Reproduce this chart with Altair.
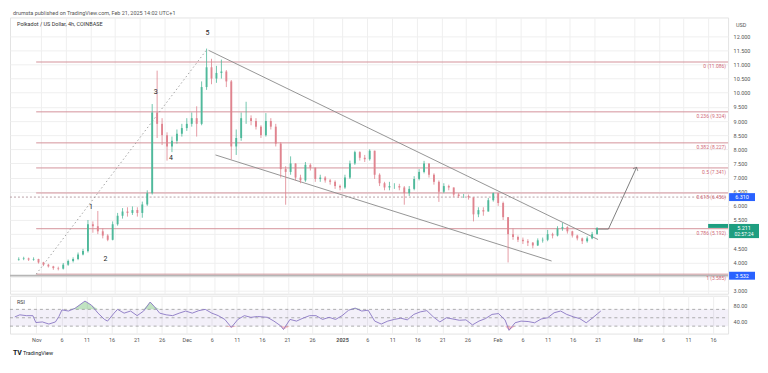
import json
import altair as alt
import pandas as pd

FONT = "Roboto"
W, H1, H2 = 720, 277, 38
X_DOM = [-5.26, 138.0]
P_DOM = [2.894, 12.662]
R_DOM = [12.2, 102.6]
GREEN = "#4fb99b"
RED = "#e0848f"
FIB = "#d4939b"
FIBTXT = "#d06a78"
GREY = "#8a8a8a"

# ---------------- daily OHLC ----------------
first_open = 4.10
close_oct = [4.12, 4.14, 4.10, 4.12, 4.00]
high_oct = [4.18, 4.20, 4.17, 4.18, 4.13]
low_oct = [4.06, 4.08, 4.05, 4.06, 3.96]

close_nov = [3.92, 3.86, 3.80, 3.78, 3.92, 4.05, 4.12, 4.28, 4.40, 5.35,
             5.28, 5.10, 4.95, 4.80, 5.35, 5.65, 5.80, 5.75, 5.85, 5.75,
             6.05, 6.45, 9.30, 8.90, 8.50, 8.10, 8.30, 8.55, 8.75, 8.90]
high_nov = [4.02, 3.95, 3.88, 3.85, 3.98, 4.10, 4.18, 4.35, 4.48, 5.50,
            5.45, 5.82, 5.20, 5.00, 5.45, 5.75, 5.92, 5.95, 5.98, 5.95,
            6.15, 6.55, 9.60, 10.78, 9.10, 8.60, 8.45, 8.70, 8.90, 9.10]
low_nov = [3.87, 3.82, 3.74, 3.72, 3.75, 3.88, 4.00, 4.08, 4.25, 4.35,
           5.05, 5.00, 4.85, 4.75, 4.78, 5.30, 5.55, 5.62, 5.68, 5.62,
           5.58, 6.00, 6.40, 8.40, 8.15, 7.60, 7.90, 8.20, 8.45, 8.65]

close_dec = [9.10, 8.90, 10.20, 10.90, 10.50, 10.70, 10.75, 10.40, 8.10, 8.40,
             9.10, 9.10, 9.00, 8.80, 8.50, 9.00, 8.80, 8.20, 7.30, 7.20,
             7.50, 7.00, 6.90, 7.45, 7.35, 6.95, 7.00, 6.90, 6.85, 6.70, 6.65]
high_dec = [9.30, 9.52, 10.40, 11.56, 11.20, 10.95, 11.17, 10.80, 10.45, 8.70,
            9.30, 9.68, 9.20, 9.10, 8.85, 9.28, 9.10, 8.90, 8.25, 7.40,
            7.75, 7.50, 7.10, 7.55, 7.50, 7.35, 7.10, 7.05, 6.95, 6.90, 6.75]
low_dec = [8.80, 8.45, 8.85, 10.10, 10.30, 10.35, 10.50, 10.20, 7.64, 7.80,
           8.30, 8.90, 8.85, 8.70, 8.40, 8.45, 8.70, 8.10, 7.00, 6.04,
           7.10, 6.90, 6.80, 6.85, 7.25, 6.85, 6.85, 6.82, 6.75, 6.60, 6.55]

close_jan = [7.00, 7.50, 7.90, 7.70, 7.65, 7.95, 7.10, 6.80, 6.65, 6.70,
             6.70, 6.65, 6.45, 6.60, 6.95, 7.20, 7.50, 7.10, 6.85, 6.50,
             6.70, 6.65, 6.40, 6.35, 6.35, 6.30, 5.70, 5.85, 5.80, 6.20, 6.45]
high_jan = [7.10, 7.60, 7.95, 7.93, 7.80, 8.00, 7.95, 7.15, 6.85, 6.85,
            6.80, 6.78, 6.70, 6.70, 7.05, 7.30, 7.59, 7.50, 7.15, 6.90,
            6.80, 6.75, 6.65, 6.45, 6.42, 6.40, 6.30, 5.95, 5.95, 6.28, 6.47]
low_jan = [6.60, 6.95, 7.45, 7.60, 7.55, 7.60, 6.95, 6.70, 6.55, 6.55,
           6.60, 6.55, 6.04, 6.35, 6.55, 6.90, 7.15, 7.00, 6.75, 6.14,
           6.45, 6.55, 6.32, 6.28, 6.28, 6.22, 5.45, 5.60, 5.65, 5.80, 6.15]

close_feb = [6.10, 5.60, 5.00, 4.90, 4.80, 4.75, 4.70, 4.60, 4.78, 4.80,
             5.00, 4.95, 5.20, 5.25, 5.10, 4.95, 4.85, 4.75, 4.85, 5.00, 5.21]
high_feb = [6.45, 6.15, 5.60, 5.20, 4.95, 4.88, 4.82, 4.72, 4.85, 4.88,
            5.15, 5.05, 5.28, 5.40, 5.28, 5.12, 4.98, 4.88, 4.92, 5.08, 5.25]
low_feb = [6.00, 5.50, 4.00, 4.80, 4.72, 4.65, 4.58, 4.50, 4.58, 4.70,
           4.75, 4.85, 4.92, 5.12, 5.02, 4.88, 4.78, 4.65, 4.70, 4.82, 4.98]

close = close_oct + close_nov + close_dec + close_jan + close_feb
high = high_oct + high_nov + high_dec + high_jan + high_feb
low = low_oct + low_nov + low_dec + low_jan + low_feb

# ---------------- RSI (days after Nov 1, value) ----------------
rsi_day = [-4.3, -3.3, -2.0, -0.7, -0.1, 1.2, 2.5, 3.8, 4.5, 5.1,
           6.4, 7.7, 9.7, 11.0, 12.3, 13.6, 14.2, 15.5, 16.2, 17.5,
           18.8, 20.1, 21.4, 22.7, 23.6, 24.6, 25.9, 27.2, 28.5, 29.8,
           31.1, 32.4, 33.7, 35.0, 36.3, 37.6, 38.9, 40.2, 41.5, 42.8,
           44.1, 46.1, 47.4, 48.7, 49.3, 50.6, 51.9, 53.2, 54.5, 55.8,
           57.1, 58.4, 59.7, 61.0, 62.3, 63.6, 64.9, 66.2, 67.5, 68.8,
           70.1, 71.4, 72.7, 74.0, 75.3, 76.6, 77.9, 79.2, 80.5, 81.8,
           83.1, 84.4, 85.7, 87.0, 88.3, 89.6, 90.9, 92.2, 93.5, 94.3,
           95.5, 96.7, 98.1, 99.4, 100.7, 102.0, 103.3, 104.6, 105.8, 107.2,
           108.4, 109.7, 111.0, 112.0, 112.6]
rsi_val = [52, 57, 55, 55, 38.6, 40, 35, 40, 53, 68.7,
           66, 72.5, 89.8, 80, 61, 46, 42, 61, 70, 61,
           66, 55, 66, 87.5, 76, 61, 57, 55, 61, 66,
           61, 67, 70, 61, 55, 46, 27, 46, 55, 51,
           53, 51, 42, 31, 22, 46, 42, 49, 55, 55,
           46, 51, 46, 55, 68, 73, 66, 68, 42, 35,
           42, 46, 49, 45, 58, 64, 67, 52, 40, 50,
           47, 44, 45, 33, 42, 48, 58, 60, 45, 20,
           38, 42, 41, 38, 47, 50, 62, 66, 58, 52,
           48, 38, 50, 60, 66]

# ---------------- drawings ----------------
fib_levels = [11.086, 9.324, 8.227, 7.341, 6.456, 5.192, 3.585]
fib_labels = ["0 (11.086)", "0.236 (9.324)", "0.382 (8.227)", "0.5 (7.341)",
              "0.618 (6.456)", "0.786 (5.192)", "1 (3.585)"]
fib_start_day = -0.97

wave_day = [10.1, 13.06, 23.2, 26.3, 33.7]
wave_price = [5.97, 4.12, 10.01, 7.70, 12.1]
wave_text = ["1", "2", "3", "4", "5"]

upper_day = [33.9, 112.7]
upper_price = [11.50, 4.81]
lower_day = [35.3, 103.3]
lower_price = [7.80, 4.05]
dotted_day = [-0.97, 33.7]
dotted_price = [3.585, 11.56]
arrow_day = [112.2, 114.8, 120.5]
arrow_price = [5.18, 5.18, 7.36]

tick_days = [0, 5, 10, 15, 20, 25, 30, 35, 40, 45, 50, 55, 61, 66, 71, 76, 81, 86,
             92, 97, 102, 107, 112, 120, 125, 130, 135]
tick_labels = ["Nov", "6", "11", "16", "21", "26", "Dec", "6", "11", "16", "21", "26",
               "2025", "6", "11", "16", "21", "26", "Feb", "6", "11", "16", "21",
               "Mar", "6", "11", "16"]
# grid every 0.5; 5.000 and 3.500 are hidden behind the price tags in the reference
grid_ticks = [3.0, 3.5, 4.0, 4.5, 5.0, 5.5, 6.0, 6.5, 7.0, 7.5, 8.0, 8.5, 9.0,
              9.5, 10.0, 10.5, 11.0, 11.5, 12.0]
price_labels = [3.0, 4.0, 4.5, 5.5, 6.0, 6.5, 7.0, 7.5, 8.0, 8.5, 9.0,
                9.5, 10.0, 10.5, 11.0, 11.5, 12.0]
rsi_ticks = [40, 80]

# ---------------- frames ----------------
dates = pd.date_range("2024-10-27", periods=len(close), freq="D")
day = [(d - pd.Timestamp("2024-11-01")).days + 0.5 for d in dates]
opens = [first_open] + close[:-1]
candles = pd.DataFrame({"day": day, "open": opens, "close": close,
                        "high": high, "low": low})
rsi_df = pd.DataFrame({"day": rsi_day, "rsi": rsi_val})
fib_df = pd.DataFrame({"level": fib_levels, "label": fib_labels,
                       "start": [fib_start_day] * len(fib_levels)})

xs = alt.Scale(domain=X_DOM, nice=False, zero=False)
ps = alt.Scale(domain=P_DOM, nice=False, zero=False)
rs = alt.Scale(domain=R_DOM, nice=False, zero=False)

x_top_axis = alt.Axis(values=tick_days, labels=False, ticks=False, domain=False,
                      grid=True, title=None)
label_expr = f"{json.dumps(tick_labels)}[indexof({json.dumps(tick_days)}, datum.value)]"
x_bot_axis = alt.Axis(values=tick_days, labelExpr=label_expr, ticks=False, domain=False,
                      grid=True, title=None, labelFontSize=5.5, labelColor="#555",
                      labelPadding=4, labelFont=FONT,
                      labelFontWeight=alt.expr("datum.value == 61 ? 'bold' : 'normal'"))
p_axis = alt.Axis(orient="right", values=grid_ticks, format=".3f", grid=True,
                  ticks=False, domain=False, labelFontSize=5.5, labelColor="#555",
                  labelPadding=5, title=None, labelFont=FONT,
                  labelExpr=f"indexof({json.dumps(price_labels)}, datum.value) >= 0 ? datum.label : ''")
r_axis = alt.Axis(orient="right", values=rsi_ticks, format=".2f", grid=False,
                  ticks=False, domain=False, labelFontSize=5.5, labelColor="#555",
                  labelPadding=5, title=None, labelFont=FONT)


def XT(f):
    return alt.X(f"{f}:Q", scale=xs, axis=x_top_axis)


def XB(f):
    return alt.X(f"{f}:Q", scale=xs, axis=x_bot_axis)


def YP(f):
    return alt.Y(f"{f}:Q", scale=ps, axis=p_axis)


def YR(f):
    return alt.Y(f"{f}:Q", scale=rs, axis=r_axis)


def seg(days, prices):
    return pd.DataFrame({"day": days, "price": prices, "o": list(range(len(days)))})


# ---------------- price pane ----------------
base_grid = alt.Chart(candles).mark_point(opacity=0).encode(x=XT("day"), y=YP("close"))

fib_rules = alt.Chart(fib_df).mark_rule(color=FIB, strokeWidth=1).encode(
    x=XT("start"), x2=alt.value(W), y=YP("level"))
fib_text = alt.Chart(fib_df).mark_text(align="right", baseline="top", dy=2,
                                       fontSize=5, color=FIBTXT, font=FONT).encode(
    x=alt.value(W - 2), y=YP("level"), text="label:N")

hl_df = pd.DataFrame({"level": [6.310], "label": ["6.310"]})
dash_line = alt.Chart(hl_df).mark_rule(color="#b9a0a6", strokeDash=[2, 2], strokeWidth=1).encode(
    x=alt.value(0), x2=alt.value(W), y=YP("level"))
low_df = pd.DataFrame({"level": [3.532], "label": ["3.532"]})
low_line = alt.Chart(low_df).mark_rule(color="#b5b5b5", strokeWidth=1.6).encode(
    x=alt.value(0), x2=alt.value(W), y=YP("level"))

color = alt.condition("datum.close >= datum.open", alt.value(GREEN), alt.value(RED))
wicks = alt.Chart(candles).mark_rule(strokeWidth=0.8).encode(
    x=XT("day"), y=YP("low"), y2="high:Q", color=color)
bodies = alt.Chart(candles).mark_bar(size=1.9).encode(
    x=XT("day"), y=YP("open"), y2="close:Q", color=color)

upper = alt.Chart(seg(upper_day, upper_price)).mark_line(color=GREY, strokeWidth=0.9).encode(
    x=XT("day"), y=YP("price"), order="o:Q")
lower = alt.Chart(seg(lower_day, lower_price)).mark_line(color=GREY, strokeWidth=0.9).encode(
    x=XT("day"), y=YP("price"), order="o:Q")
dotted = alt.Chart(seg(dotted_day, dotted_price)).mark_line(
    color="#9a9a9a", strokeWidth=0.9, strokeDash=[1.5, 2.5]).encode(
    x=XT("day"), y=YP("price"), order="o:Q")
arrow = alt.Chart(seg(arrow_day, arrow_price)).mark_line(color="#707070", strokeWidth=0.9).encode(
    x=XT("day"), y=YP("price"), order="o:Q")
head_df = pd.DataFrame({"day": [arrow_day[-1]], "price": [arrow_price[-1]]})
head = alt.Chart(head_df).mark_point(shape="M -1 1 L 0 0 L 1 1", filled=False, size=30,
                                     color="#707070", strokeWidth=0.9, angle=25).encode(
    x=XT("day"), y=YP("price"))

wave_df = pd.DataFrame({"day": wave_day, "price": wave_price, "t": wave_text})
waves = alt.Chart(wave_df).mark_text(fontSize=7, color="#222", font=FONT).encode(
    x=XT("day"), y=YP("price"), text="t:N")

hdr = pd.DataFrame({"t": ["drumsta published on TradingView.com, Feb 21, 2025 14:02 UTC+1"]})
header = alt.Chart(hdr).mark_text(align="left", fontSize=5.5, color="#555", font=FONT).encode(
    x=alt.value(3), y=alt.value(-4), text="t:N")
sym = pd.DataFrame({"t": ["Polkadot / US Dollar, 4h, COINBASE"]})
symbol = alt.Chart(sym).mark_text(align="left", fontSize=5.5, color="#333", font=FONT).encode(
    x=alt.value(7), y=alt.value(6.5), text="t:N")
usd = alt.Chart(pd.DataFrame({"t": ["USD"]})).mark_text(align="left", fontSize=5.5,
                                                        color="#555", font=FONT).encode(
    x=alt.value(W + 8), y=alt.value(7.5), text="t:N")

# price tags on the scale
tags = pd.DataFrame({
    "top": [6.45, 3.67], "bot": [6.17, 3.39], "mid": [6.310, 3.532], "t": ["6.310", "3.532"]})
tag_box = alt.Chart(tags).mark_rect(color="#2962ff").encode(
    x=alt.value(W + 1), x2=alt.value(W + 27), y=YP("top"), y2="bot:Q")
tag_txt = alt.Chart(tags).mark_text(color="white", fontSize=5.5, font=FONT).encode(
    x=alt.value(W + 14), y=YP("mid"), text="t:N")

cur = pd.DataFrame({"top": [5.36], "bot": [4.86], "a": [5.22], "b": [4.99],
                    "ta": ["5.211"], "tb": ["02:57:24"], "name": ["DOTUSD"]})
cur_box = alt.Chart(cur).mark_rect(color="#1e9e80").encode(
    x=alt.value(W + 1), x2=alt.value(W + 31), y=YP("top"), y2="bot:Q")
cur_a = alt.Chart(cur).mark_text(color="white", fontSize=5.5, font=FONT).encode(
    x=alt.value(W + 16), y=YP("a"), text="ta:N")
cur_b = alt.Chart(cur).mark_text(color="white", fontSize=5, font=FONT).encode(
    x=alt.value(W + 16), y=YP("b"), text="tb:N")
name_box = alt.Chart(cur).mark_rect(color="#1e9e80").encode(
    x=alt.value(W - 20), x2=alt.value(W), y=YP("top"), y2="a:Q")
name_txt = alt.Chart(cur).mark_text(color="white", fontSize=4.8, font=FONT, dy=-2).encode(
    x=alt.value(W - 10), y=YP("top"), text="name:N")

price_pane = alt.layer(
    base_grid, fib_rules, dash_line, low_line, fib_text, dotted, upper, lower, arrow, head,
    wicks, bodies, waves, header, symbol, usd, tag_box, tag_txt, cur_box, cur_a, cur_b,
    name_box, name_txt
).properties(width=W, height=H1)

# ---------------- RSI pane ----------------
band_df = pd.DataFrame({"hi": [70], "lo": [30]})
band = alt.Chart(band_df).mark_rect(color="#7e57c2", opacity=0.09).encode(
    x=alt.value(0), x2=alt.value(W), y=YR("hi"), y2="lo:Q")
lvl_df = pd.DataFrame({"v": [70, 50, 30]})
lvls = alt.Chart(lvl_df).mark_rule(color="#9a9a9a", strokeDash=[3, 3], strokeWidth=0.8).encode(
    x=alt.value(0), x2=alt.value(W), y=YR("v"))
rsi_base = alt.Chart(rsi_df).mark_point(opacity=0).encode(x=XB("day"), y=YR("rsi"))
ob = alt.Chart(rsi_df).transform_calculate(top="max(datum.rsi, 70)", b="70").mark_area(
    color="#4caf50", opacity=0.35).encode(x=XB("day"), y=YR("top"), y2="b:Q")
os_ = alt.Chart(rsi_df).transform_calculate(bt="min(datum.rsi, 30)", b="30").mark_area(
    color="#f23645", opacity=0.3).encode(x=XB("day"), y=YR("bt"), y2="b:Q")
rsi_line = alt.Chart(rsi_df).mark_line(color="#8a76c4", strokeWidth=0.9).encode(
    x=XB("day"), y=YR("rsi"))
rsi_lbl = alt.Chart(pd.DataFrame({"t": ["RSI"]})).mark_text(
    align="left", fontSize=5.5, color="#444", font=FONT).encode(
    x=alt.value(7), y=alt.value(6.6), text="t:N")
logo = alt.Chart(pd.DataFrame({"t": ["TV"]})).mark_text(
    align="left", fontSize=7, fontWeight="bold", color="#131722", font=FONT).encode(
    x=alt.value(3), y=alt.value(H2 + 19.7), text="t:N")
brand = alt.Chart(pd.DataFrame({"t": ["TradingView"]})).mark_text(
    align="left", fontSize=5.5, color="#131722", font=FONT).encode(
    x=alt.value(13), y=alt.value(H2 + 19.7), text="t:N")

rsi_pane = alt.layer(rsi_base, band, lvls, ob, os_, rsi_line, rsi_lbl, logo, brand).properties(
    width=W, height=H2)

chart = alt.vconcat(price_pane, rsi_pane, spacing=0).properties(
    padding={"left": 0, "top": 2, "right": 0, "bottom": 0},
    background="white",
).configure_view(stroke="#e3e3e3", strokeWidth=1).configure_axis(
    gridColor="#efefef", gridWidth=1, labelFont=FONT)

chart.save("out.html", embed_options={"renderer": "svg", "actions": False})
